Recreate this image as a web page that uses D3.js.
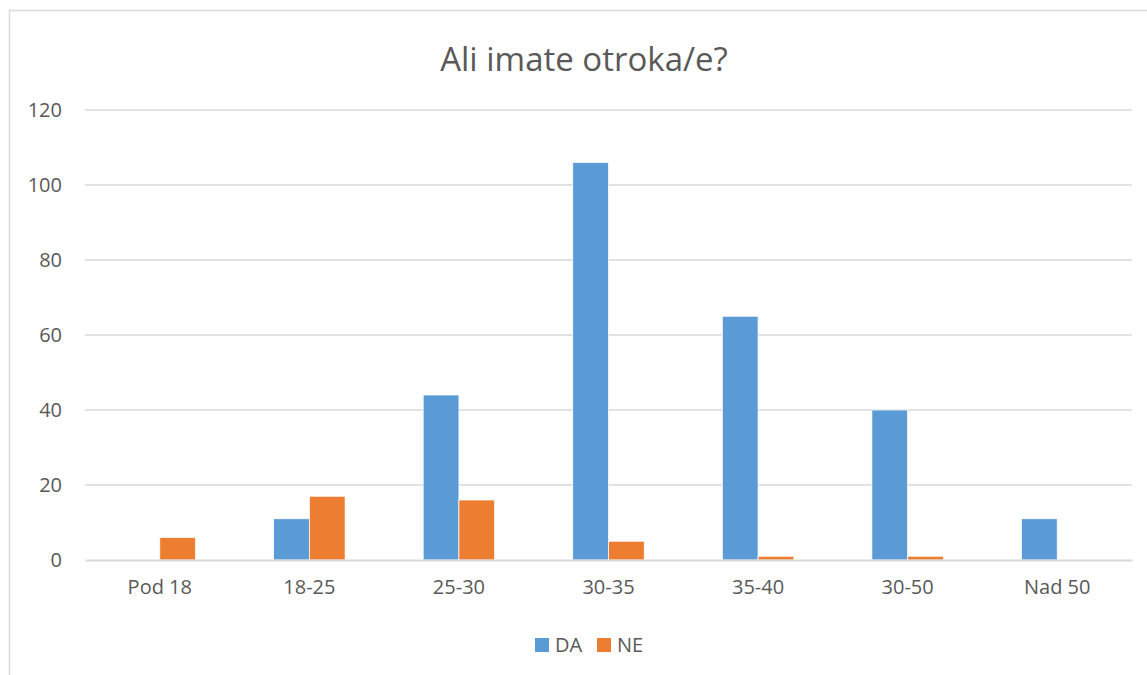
<!DOCTYPE html>
<html>
<head>
<meta charset="utf-8">
<script src="https://cdn.jsdelivr.net/npm/d3@7"></script>
<style>
  body { margin: 0; background: #fff; }
  text { font-family: "Open Sans", sans-serif; fill: #595959; }
</style>
</head>
<body>
<div id="chart"></div>
<script>
// data
var categories = ['Pod 18', '18-25', '25-30', '30-35', '35-40', '30-50', 'Nad 50'];
var seriesNames = ['DA', 'NE'];
var daValues = [0, 11, 44, 106, 65, 40, 11];
var neValues = [6, 17, 16, 5, 1, 1, 0];
var yTicks = [0, 20, 40, 60, 80, 100, 120];
var colors = ['#5B9BD5', '#ED7D31'];

var W = 1147, H = 675;
var margin = {top: 110, right: 15, bottom: 115, left: 85};
var width = W - margin.left - margin.right,
    height = H - margin.top - margin.bottom;

var svg = d3.select('#chart').append('svg')
    .attr('width', W)
    .attr('height', H);

// chart frame (only top and left edges are visible)
svg.append('path')
    .attr('d', 'M9.5,' + H + 'V10.5H' + W)
    .attr('fill', 'none')
    .attr('stroke', '#d9d9d9')
    .attr('stroke-width', 1.5);

var g = svg.append('g')
    .attr('transform', 'translate(' + margin.left + ',' + margin.top + ')');

var x = d3.scaleBand()
    .domain(categories)
    .range([0, width]);

var x1 = d3.scaleBand()
    .domain(seriesNames)
    .range([0, 71.5])

var y = d3.scaleLinear()
    .domain([0, 120])
    .range([height, 0]);

// gridlines
g.append('g')
  .selectAll('line')
  .data(yTicks.slice(1))
  .enter().append('line')
    .attr('x1', 0)
    .attr('x2', width)
    .attr('y1', function(d) { return y(d); })
    .attr('y2', function(d) { return y(d); })
    .attr('stroke', '#d9d9d9')
    .attr('stroke-width', 1.5);

// y labels
g.append('g')
    .call(d3.axisLeft(y).tickValues(yTicks).tickSize(0).tickPadding(23))
    .call(function(a) { a.select('.domain').remove(); })
    .selectAll('text')
    .style('font-size', '20px')
    .style('fill', '#595959')
    .style('font-family', '"Open Sans", sans-serif');

var rows = categories.map(function(c, i) {
  return {cat: c, values: [daValues[i], neValues[i]]};
});

var groups = g.selectAll('.cat')
    .data(rows)
    .enter().append('g')
    .attr('transform', function(d) {
      return 'translate(' + (x(d.cat) + x.bandwidth() / 2 - 35.75) + ',0)';
    });

groups.selectAll('rect')
    .data(function(d) { return d.values.map(function(v, i) { return {k: seriesNames[i], v: v, i: i}; }); })
    .enter().append('rect')
    .filter(function(d) { return d.v > 0; })
    .attr('x', function(d) { return x1(d.k); })
    .attr('y', function(d) { return y(d.v); })
    .attr('width', x1.bandwidth())
    .attr('height', function(d) { return height - y(d.v); })
    .attr('fill', function(d) { return colors[d.i]; })
    .attr('stroke', '#fff')
    .attr('stroke-width', 0.75);

// x axis
g.append('g')
    .attr('transform', 'translate(0,' + height + ')')
    .call(d3.axisBottom(x).tickSize(0).tickPadding(20))
    .call(function(a) {
      a.select('.domain').attr('stroke', '#d9d9d9').attr('stroke-width', 2);
    })
    .selectAll('text')
    .style('font-size', '20px')
    .style('fill', '#595959')
    .style('font-family', '"Open Sans", sans-serif');

// title
svg.append('text')
    .attr('x', 584)
    .attr('y', 71)
    .attr('text-anchor', 'middle')
    .style('font-size', '33px')
    .text('Ali imate otroka/e?');

// legend
var legend = svg.append('g')
    .attr('transform', 'translate(535,638)');

var items = legend.selectAll('g')
    .data(seriesNames)
    .enter().append('g')
    .attr('transform', function(d, i) { return 'translate(' + (i * 62) + ',0)'; });

items.append('rect')
    .attr('width', 14)
    .attr('height', 14)
    .attr('fill', function(d, i) { return colors[i]; });

items.append('text')
    .attr('x', 20)
    .attr('y', 7)
    .attr('dy', '0.35em')
    .style('font-size', '20px')
    .text(function(d) { return d; });
</script>
</body>
</html>
